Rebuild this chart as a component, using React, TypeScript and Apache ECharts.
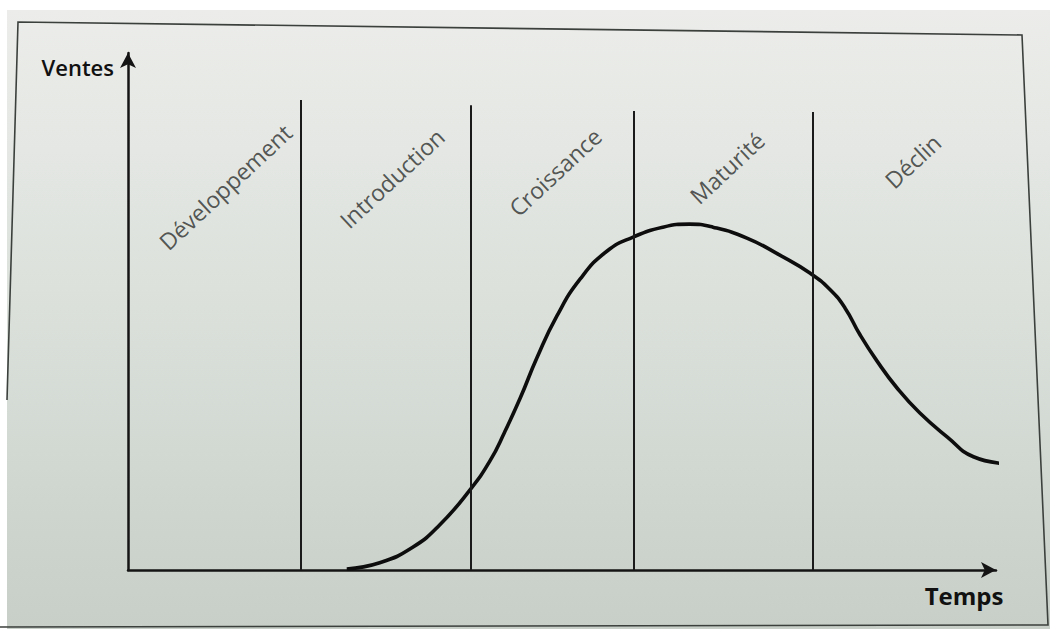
import React, { useEffect, useRef } from "react";
import * as echarts from "echarts";

// Phases du cycle de vie
const phaseNames = ["Développement", "Introduction", "Croissance", "Maturité", "Déclin"];
const phaseLabelX = [11.2, 30.4, 49.2, 69.0, 90.4];
const phaseLabelY = [74.1, 75.8, 77.0, 77.8, 79.1];

// Limites verticales entre phases
const boundaryX = [19.9, 39.5, 58.3, 78.9];
const boundaryTop = [90.9, 89.9, 88.8, 88.6];

// Courbe des ventes (temps, ventes)
const timeValues = [
  25.2, 29.0, 32.8, 35.9, 39.4, 41.7, 43.4, 45.2, 47.1, 49.4, 52.1, 55.2, 58.2, 61.6,
  64.7, 67.4, 71.3, 75.1, 78.6, 80.9, 82.6, 84.3, 86.3, 88.6, 91.2, 94.4, 97.4, 101.6,
];
const salesValues = [
  0.2, 1.4, 4.4, 8.7, 15.5, 21.1, 26.7, 33.3, 41.0, 49.1, 56.3, 61.7, 64.4, 66.3,
  66.9, 66.3, 64.2, 60.9, 57.4, 54.2, 50.7, 45.6, 40.4, 35.2, 30.4, 25.7, 21.9, 20.5,
];

const axisTitleY = "Ventes";
const axisTitleX = "Temps";

export default function App() {
  const ref = useRef<HTMLDivElement>(null);

  useEffect(() => {
    if (!ref.current) return;
    const chart = echarts.init(ref.current, undefined, { renderer: "svg" });
    const font = "'Open Sans', 'Noto Sans', sans-serif";

    const curve = timeValues.map((t, i) => [t, salesValues[i]]);
    const labels = phaseNames.map((n, i) => ({ name: n, value: [phaseLabelX[i], phaseLabelY[i]] }));
    const boundaries = boundaryX.map((x, i) => [
      { coord: [x, 0] },
      { coord: [x, boundaryTop[i]] },
    ]);

    const axisLine = {
      show: true,
      symbol: ["none", "arrow"],
      symbolSize: [12, 15],
      lineStyle: { color: "#141414", width: 2.5 },
    };

    chart.setOption({
      animation: false,
      backgroundColor: "#ffffff",
      textStyle: { fontFamily: font },
      graphic: [
        {
          type: "rect",
          z: -10,
          shape: { x: 7, y: 10, width: 1043, height: 619 },
          style: {
            fill: new echarts.graphic.LinearGradient(0, 0, 0, 1, [
              { offset: 0, color: "#ecedea" },
              { offset: 0.45, color: "#dce1dc" },
              { offset: 1, color: "#c7cfc8" },
            ]),
          },
        },
        {
          type: "polyline",
          z: -9,
          shape: { points: [[7, 400], [18, 22], [1022, 35], [1048, 625], [0, 627]] },
          style: { fill: "none", stroke: "#3c403d", lineWidth: 1.6 },
        },
      ],
      grid: { left: 128, right: 54, top: 53, bottom: 59 },
      xAxis: {
        type: "value",
        min: 0,
        max: 100,
        name: axisTitleX,
        nameLocation: "end",
        nameGap: -32,
        nameTextStyle: {
          fontFamily: font,
          fontSize: 24,
          fontWeight: 700,
          color: "#111",
          align: "center",
          verticalAlign: "top",
          padding: [13, 0, 0, 0],
        },
        axisLine,
        axisTick: { show: false },
        axisLabel: { show: false },
        splitLine: { show: false },
      },
      yAxis: {
        type: "value",
        min: 0,
        max: 100,
        name: axisTitleY,
        nameLocation: "end",
        nameGap: -14,
        nameTextStyle: {
          fontFamily: font,
          fontSize: 22,
          fontWeight: 600,
          color: "#111",
          align: "right",
          verticalAlign: "middle",
          padding: [0, 14, 0, 0],
        },
        axisLine,
        axisTick: { show: false },
        axisLabel: { show: false },
        splitLine: { show: false },
      },
      series: [
        {
          type: "line",
          data: curve,
          smooth: 0.5,
          symbol: "none",
          clip: false,
          lineStyle: { color: "#0d0d0d", width: 3.6 },
          markLine: {
            silent: true,
            symbol: ["none", "none"],
            label: { show: false },
            lineStyle: { color: "#1a1a1a", width: 2, type: "solid" },
            data: boundaries,
          },
          z: 3,
        },
        {
          type: "scatter",
          data: labels,
          symbolSize: 0,
          silent: true,
          label: {
            show: true,
            position: "inside",
            formatter: "{b}",
            rotate: 43,
            fontFamily: font,
            fontSize: 23,
            color: "#2c2f2d",
          },
        },
      ],
    });

    return () => chart.dispose();
  }, []);

  return (
    <div
      ref={ref}
      style={{ position: "fixed", left: 0, top: 0, width: 1050, height: 629 }}
    />
  );
}
